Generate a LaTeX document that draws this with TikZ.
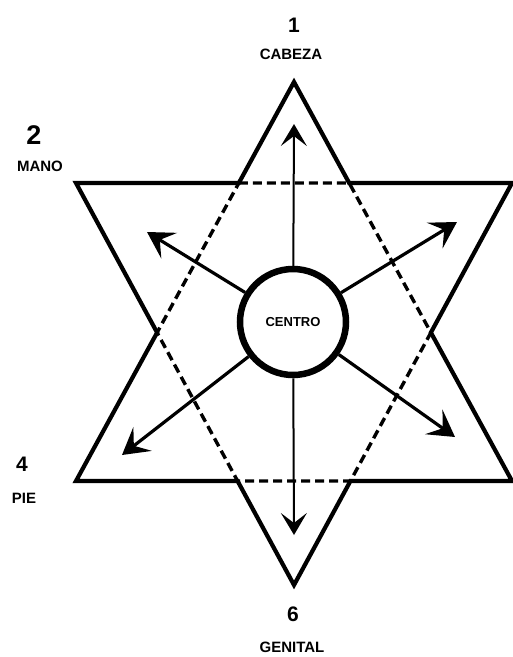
\documentclass[tikz,border=0pt]{standalone}
\usepackage{fontspec}
\setmainfont{Liberation Sans}
\usetikzlibrary{arrows.meta}

\begin{document}
\begin{tikzpicture}[
  x=1pt, y=-1pt,
  star/.style={line width=4.2pt, line join=miter},
  hexa/.style={line width=3.4pt, dash pattern=on 9pt off 5pt},
  num/.style={font=\fontsize{21}{21}\selectfont\bfseries, inner sep=0pt},
  lbl/.style={font=\fontsize{15}{15}\selectfont\bfseries, inner sep=0pt},
  arr/.style={line width=3.2pt, -{Stealth[length=26pt, width=30pt, inset=11pt]}},
  varr/.style={line width=2pt, -{Stealth[length=22pt, width=26pt, inset=10pt]}}
]
  \useasboundingbox (0,0) rectangle (513,657);

  % Triangle corners
  \coordinate (a) at (294,82);
  \coordinate (b) at (76,481);
  \coordinate (c) at (512,481);
  \coordinate (d) at (76,183);
  \coordinate (e) at (512,183);
  \coordinate (f) at (294,585);

  % Inner hexagon
  \coordinate (p1) at (intersection of a--b and d--e);
  \coordinate (p2) at (intersection of a--c and d--e);
  \coordinate (p3) at (intersection of a--b and d--f);
  \coordinate (p4) at (intersection of b--c and d--f);
  \coordinate (p5) at (intersection of b--c and e--f);
  \coordinate (p6) at (intersection of a--c and e--f);

  % Star outline
  \draw[star] (a) -- (p2) -- (e) -- (p6) -- (c) -- (p5) -- (f)
    -- (p4) -- (b) -- (p3) -- (d) -- (p1) -- cycle;
  \draw[hexa] (p1) -- (p2) -- (p6) -- (p5) -- (p4) -- (p3) -- cycle;

  % Centre
  \node[draw, circle, line width=6.5pt, minimum size=106pt,
        font=\fontsize{13}{13}\selectfont\bfseries, fill=white] (centro) at (293,322) {CENTRO};

  % Arrow tips
  \coordinate (tipUp) at (294,124);
  \coordinate (tipDown) at (294,535);
  \coordinate (tipUL) at (147,232);
  \coordinate (tipUR) at (457,222);
  \coordinate (tipLL) at (122,455);
  \coordinate (tipLR) at (455,437);

  \draw[varr] (centro) -- (tipUp);
  \draw[varr] (centro) -- (tipDown);
  \draw[arr] (centro) -- (tipUL);
  \draw[arr] (centro) -- (tipUR);
  \draw[arr] (centro) -- (tipLL);
  \draw[arr] (centro) -- (tipLR);

  % Labels
  \node[num] (n1) at (294,25) {1};
  \node[lbl] (cabeza) at (291,54) {CABEZA};
  \node[num, font=\fontsize{27}{27}\selectfont\bfseries] (n2) at (34,135) {2};
  \node[lbl] (mano) at (40,166) {MANO};
  \node[num] (n4) at (22,464) {4};
  \node[lbl] (pie) at (24,498) {PIE};
  \node[num] (n6) at (293,614) {6};
  \node[lbl] (genital) at (292,647) {GENITAL};
\end{tikzpicture}
\end{document}
